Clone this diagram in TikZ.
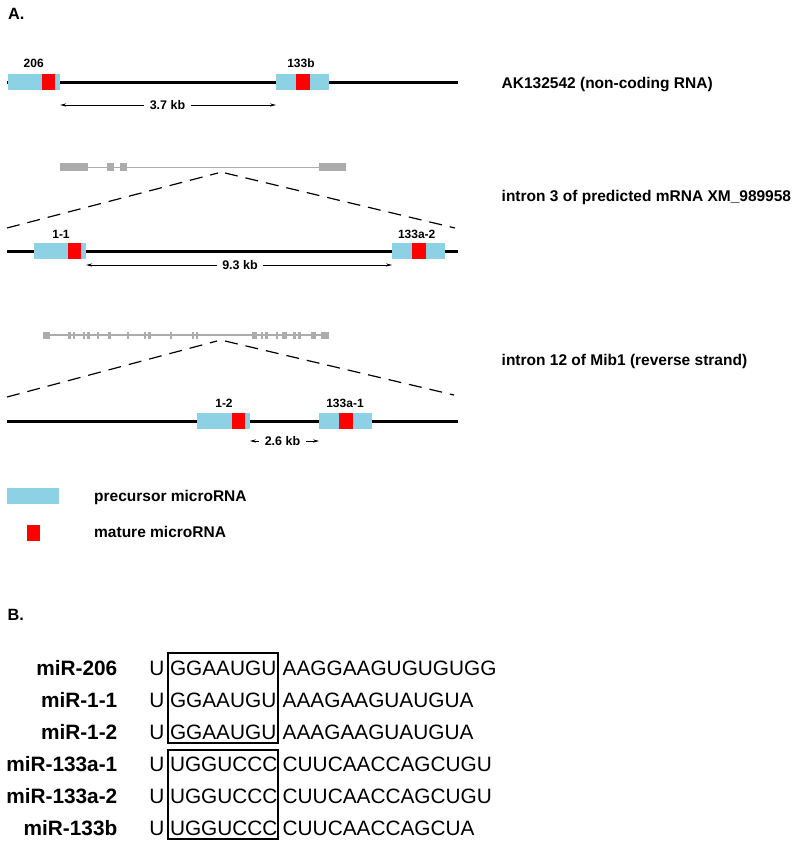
\documentclass[tikz,border=0pt]{standalone}
\usepackage{fontspec}
\setmainfont{Liberation Sans}
\usetikzlibrary{arrows.meta,calc,backgrounds}
\definecolor{preblue}{RGB}{140,210,228}
\definecolor{matred}{RGB}{255,0,0}
\definecolor{exgray}{RGB}{172,172,172}
\begin{document}
\begin{tikzpicture}[x=1pt,y=-1pt,
  pre/.style={rectangle,fill=preblue,draw=none,minimum width=52.5pt,minimum height=16pt,inner sep=0pt,anchor=west},
  mat/.style={rectangle,fill=matred,draw=none,minimum width=13.3pt,minimum height=16pt,inner sep=0pt,anchor=west},
  chrom/.style={line width=3pt,black},
  intronline/.style={line width=1.4pt,exgray},
  zoomdash/.style={line width=1.2pt,black,dash pattern=on 13pt off 8pt},
  dimarrow/.style={line width=0.7pt,{Stealth[length=6pt,width=3.2pt]}-{Stealth[length=6pt,width=3.2pt]}},
  glbl/.style={inner sep=0pt,anchor=base,font=\fontsize{12}{14}\selectfont\bfseries},
  kb/.style={fill=white,inner xsep=5.5pt,inner ysep=2pt,font=\fontsize{12.5}{14}\selectfont\bfseries},
  side/.style={inner sep=0pt,anchor=base west,font=\fontsize{15.5}{18}\selectfont\bfseries},
  panel/.style={inner sep=0pt,anchor=base west,font=\fontsize{16.3}{18}\selectfont\bfseries},
  mirname/.style={inner sep=0pt,anchor=base east,font=\fontsize{20.8}{24}\selectfont\bfseries},
  seq/.style={inner sep=0pt,anchor=base west,font=\fontsize{20.8}{24}\selectfont},
  seqU/.style={inner sep=0pt,anchor=base,font=\fontsize{20.8}{24}\selectfont},
  seedframe/.style={draw=black,line width=1.1pt,inner sep=0pt}
]
\useasboundingbox (0,0) rectangle (795,843);

% ---------- Panel A ----------
\node[panel] (labA) at (8,20) {A.};

% Row 1
\coordinate (r1end) at (458,82);
\node[pre] (p206) at (7.3,82) {};
\node[pre] (p133b) at (276,82) {};
\node[mat] (m206) at ([xshift=34.4pt]p206.west) {};
\node[mat] (m133b) at ([xshift=20pt]p133b.west) {};
\node[glbl] (l206) at (33.7,67.3) {206};
\node[glbl] (l133b) at (301,67.3) {133b};
\node[kb] (kb1) at (167.5,105) {3.7 kb};
\node[side] (t1) at (501.5,88.3) {AK132542 (non-coding RNA)};
\begin{scope}[on background layer]
  \draw[chrom] (p206.west) -- (r1end);
  \draw[dimarrow] (kb1.center -| p206.east) -- (kb1.center -| p133b.west);
\end{scope}

% Row 2 gray gene
\draw[intronline] (60,167.3) -- (346,167.3);
\foreach \a/\b in {60/88,107/114,120/127,319/346}
  \fill[exgray] (\a,163.3) rectangle (\b,171.3);
\node[side] (t2) at (501.5,201.7) {intron 3 of predicted mRNA XM\_989958};
\coordinate (g2L) at (218,173);
\coordinate (g2R) at (225,173);
\coordinate (r2L) at (7,228);
\coordinate (r2R) at (455,228);
\draw[zoomdash] (r2L) -- (g2L);
\draw[zoomdash] (g2R) -- (r2R);

% Row 2 chromosome
\coordinate (r2s) at (7,251);
\coordinate (r2e) at (458,251);
\node[pre] (p11) at (33.3,251) {};
\node[pre] (p133a2) at (392,251) {};
\node[mat] (m11) at ([xshift=34.4pt]p11.west) {};
\node[mat] (m133a2) at ([xshift=20pt]p133a2.west) {};
\node[glbl] (l11) at (61,238.2) {1-1};
\node[glbl] (l133a2) at (416.7,238.2) {133a-2};
\node[kb] (kb2) at (240,265) {9.3 kb};
\begin{scope}[on background layer]
  \draw[chrom] (r2s) -- (r2e);
  \draw[dimarrow] (kb2.center -| p11.east) -- (kb2.center -| p133a2.west);
\end{scope}

% Row 3 gray gene
\draw[intronline] (42.7,335) -- (329,335);
\foreach \a/\b in {42.7/49.5,68.3/70.7,72.7/75,82.7/85,87.3/89.5,96.7/99.3,108.3/110.7,126.7/129,144/146.3,148.3/150.7,170/172.3,191.7/194,196/198.3,251.7/256.7,260.7/263.3,265/267.5,275.7/278.3,282.3/286.7,293.3/295.7,298.3/300.7,311/315.7,321/329}
  \fill[exgray] (\a,331.5) rectangle (\b,338.5);
\node[side] (t3) at (501.5,365.5) {intron 12 of Mib1 (reverse strand)};
\coordinate (g3L) at (217,341);
\coordinate (g3R) at (225,341);
\coordinate (r3L) at (7,397);
\coordinate (r3R) at (454,395);
\draw[zoomdash] (r3L) -- (g3L);
\draw[zoomdash] (g3R) -- (r3R);

% Row 3 chromosome
\coordinate (r3s) at (7,421);
\coordinate (r3e) at (458,421);
\node[pre] (p12) at (197,421) {};
\node[pre] (p133a1) at (319,421) {};
\node[mat] (m12) at ([xshift=34.4pt]p12.west) {};
\node[mat] (m133a1) at ([xshift=20pt]p133a1.west) {};
\node[glbl] (l12) at (224,407.5) {1-2};
\node[glbl] (l133a1) at (345,407.5) {133a-1};
\node[kb] (kb3) at (282.5,441) {2.6 kb};
\begin{scope}[on background layer]
  \draw[chrom] (r3s) -- (r3e);
  \draw[dimarrow] (kb3.center -| p12.east) -- (kb3.center -| p133a1.west);
\end{scope}

% Legend
\node[pre,minimum width=52pt] (legpre) at (7,496) {};
\node[mat,minimum width=13pt] (legmat) at (27,533) {};
\node[side] (legpretxt) at (94,501.3) {precursor microRNA};
\node[side] (legmattxt) at (94,537.3) {mature microRNA};

% ---------- Panel B ----------
\node[panel] (labB) at (7.3,620.7) {B.};

\node[seedframe,minimum width=110pt,minimum height=90pt] (box1) at (223,698) {};
\node[seedframe,minimum width=110pt,minimum height=89pt] (box2) at (223,794.5) {};

\foreach \i/\nm/\sd/\rs in {0/miR-206/GGAAUGU/AAGGAAGUGUGUGG,
                             1/miR-1-1/GGAAUGU/AAAGAAGUAUGUA,
                             2/miR-1-2/GGAAUGU/AAAGAAGUAUGUA,
                             3/miR-133a-1/UGGUCCC/CUUCAACCAGCUGU,
                             4/miR-133a-2/UGGUCCC/CUUCAACCAGCUGU,
                             5/miR-133b/UGGUCCC/CUUCAACCAGCUA}{
  \node[mirname] (name\i) at (117.5,675+32*\i) {\nm};
  \node[seqU] (u\i) at (157,675+32*\i) {U};
  \node[seq] (seed\i) at (169.8,675+32*\i) {\sd};
  \node[seq] (rest\i) at (282.5,675+32*\i) {\rs};
}
\end{tikzpicture}
\end{document}
